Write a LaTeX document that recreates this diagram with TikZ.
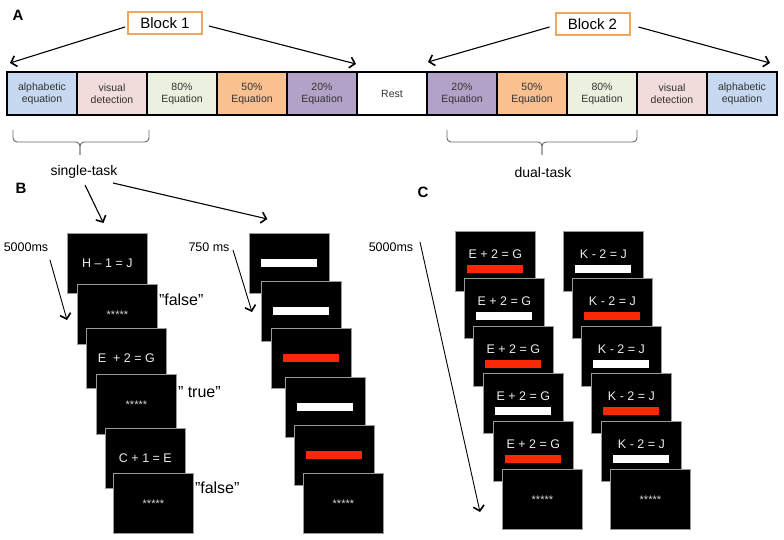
\documentclass[tikz,border=0pt]{standalone}
\usepackage{fontspec}
\setmainfont{Liberation Sans}
\usepackage{tikz}
\usetikzlibrary{positioning}
\usetikzlibrary{arrows.meta}

\definecolor{alphacol}{RGB}{198,217,240}
\definecolor{viscol}{RGB}{242,220,219}
\definecolor{eightycol}{RGB}{235,241,222}
\definecolor{fiftycol}{RGB}{250,192,144}
\definecolor{twentycol}{RGB}{179,162,199}
\definecolor{blockcol}{RGB}{242,165,95}
\definecolor{barred}{RGB}{250,40,5}

\newcommand{\wbar}{\textcolor{white}{\rule{56pt}{8pt}}}
\newcommand{\rbar}{\textcolor{barred}{\rule{56pt}{8pt}}}

\tikzset{
  cell/.style={draw, line width=2.2pt, outer sep=0pt, minimum width=70pt, minimum height=43pt,
    align=center, inner sep=1pt, text=black!80, font=\fontsize{10.5}{12}\selectfont},
  blockbox/.style={draw=blockcol, line width=2pt, minimum width=74pt, minimum height=22pt,
    inner sep=0pt, font=\fontsize{15}{18}\selectfont},
  screen/.style={fill=black, draw=black!40, line width=0.8pt, minimum width=80pt,
    minimum height=60pt, inner sep=0pt, anchor=north west},
  eqtxt/.style={text=white!92!black, inner sep=0pt, font=\fontsize{12.5}{15}\selectfont},
  stars/.style={text=white!85!black, font=\fontsize{11}{13}\selectfont},
  resp/.style={anchor=west, inner sep=1pt, font=\fontsize{16}{19}\selectfont},
  lbl/.style={font=\fontsize{14}{17}\selectfont},
  timelbl/.style={font=\fontsize{12.5}{15}\selectfont},
  panel/.style={font=\bfseries\fontsize{15}{18}\selectfont},
  arr/.style={line width=1.1pt, -{Straight Barb[length=5pt,width=11pt,line width=1.6pt]}},
  tarr/.style={line width=0.9pt, -{Straight Barb[length=5pt,width=11pt,line width=1.6pt]}},
  brace/.style={draw=black!60, line width=0.9pt, rounded corners=4pt}
}

\begin{document}
\begin{tikzpicture}[x=1pt, y=-1pt]
  \useasboundingbox (0,0) rectangle (784,540);

  % A: order of the blocks
  \node[panel] (labA) at (18,15) {A};
  \node[cell, fill=alphacol] (alphaA) at (42,93.5) {alphabetic\\equation};
  \node[cell, fill=viscol, right=0pt of alphaA] (visA) {visual\\detection};
  \node[cell, fill=eightycol, right=0pt of visA] (eightyA) {80\%\\Equation};
  \node[cell, fill=fiftycol, right=0pt of eightyA] (fiftyA) {50\%\\Equation};
  \node[cell, fill=twentycol, right=0pt of fiftyA] (twentyA) {20\%\\Equation};
  \node[cell, fill=white, right=0pt of twentyA] (rest) {Rest};
  \node[cell, fill=twentycol, right=0pt of rest] (twentyB) {20\%\\Equation};
  \node[cell, fill=fiftycol, right=0pt of twentyB] (fiftyB) {50\%\\Equation};
  \node[cell, fill=eightycol, right=0pt of fiftyB] (eightyB) {80\%\\Equation};
  \node[cell, fill=viscol, right=0pt of eightyB] (visB) {visual\\detection};
  \node[cell, fill=alphacol, right=0pt of visB] (alphaB) {alphabetic\\equation};

  \node[blockbox] (blk1) at (165,23) {Block 1};
  \node[blockbox] (blk2) at (592.5,24) {Block 2};
  \coordinate (blk1L) at ([shift={(3,-9)}]alphaA.north west);
  \coordinate (blk1R) at ([shift={(-1,-8)}]rest.north west);
  \coordinate (blk2L) at ([shift={(1,-10)}]twentyB.north west);
  \coordinate (blk2R) at ([shift={(-7,-9)}]alphaB.north east);
  \draw[arr] ([shift={(-2,4)}]blk1.west) -- (blk1L);
  \draw[arr] ([shift={(6,3)}]blk1.east) -- (blk1R);
  \draw[arr] ([shift={(-5,3)}]blk2.west) -- (blk2L);
  \draw[arr] ([shift={(8,3)}]blk2.east) -- (blk2R);

  % braces
  \draw[brace] (13,130) -- (13,142) -- (80,142) -- (80,155);
  \draw[brace] (149,130) -- (149,142) -- (80,142) -- (80,155);
  \draw[brace] (447,130) -- (447,142) -- (542,142) -- (542,155);
  \draw[brace] (637,130) -- (637,142) -- (542,142) -- (542,155);
  \node[lbl] (st) at (84,172) {single-task};
  \node[lbl] (dt) at (543,172) {dual-task};

  % B: single-task trials
  \node[panel] (labB) at (21,188) {B};
  \node[timelbl] (tB) at (26,247) {5000ms};
  \node[timelbl] (tM) at (209,247) {750 ms};

  \node[screen, eqtxt] (bl1) at (67,233) {H – 1 = J};
  \node[screen, stars] (bl2) at (77,284) {*****};
  \node[screen, eqtxt] (bl3) at (86,328) {E\ \ + 2 = G};
  \node[screen, stars] (bl4) at (96,374) {*****};
  \node[screen, eqtxt] (bl5) at (105,428) {C + 1 = E};
  \node[screen, stars] (bl6) at (113,473) {*****};
  \node[resp] (r1) at ([yshift=-16pt]bl2.north east) {"false"};
  \node[resp] (r2) at ([yshift=-18pt]bl4.north east) {" true"};
  \node[resp] (r3) at ([yshift=-15pt]bl6.north east) {"false"};

  \node[screen] (bm1) at (249,233) {\wbar};
  \node[screen] (bm2) at (261,281) {\wbar};
  \node[screen] (bm3) at (271,328) {\rbar};
  \node[screen] (bm4) at (285,377) {\wbar};
  \node[screen] (bm5) at (294,425) {\rbar};
  \node[screen, stars] (bm6) at (303,473) {*****};

  \draw[arr] ([shift={(1,13)}]st.center) -- ([shift={(-4,-10)}]bl1.north);
  \draw[arr] ([shift={(29,11)}]st.center) -- ([shift={(-22,-14)}]bm1.north);
  \draw[tarr] ([shift={(24,13)}]tB.center) -- ++(17,60);
  \draw[tarr] ([shift={(24,3)}]tM.center) -- ++(19,62);

  % C: dual-task trials
  \node[panel] (labC) at (423,192) {C};
  \node[timelbl] (tC) at (391,247) {5000ms};
  \draw[tarr] ([shift={(29,-5)}]tC.center) -- ++(60,270);

  \node[screen] (cl1) at (455,231) {};
  \node[eqtxt] (cl1e) at ([yshift=7.5pt]cl1.center) {E + 2 = G};
  \node[inner sep=0pt] (cl1b) at ([yshift=-7.5pt]cl1.center) {\rbar};
  \node[screen] (cl2) at (464,278) {};
  \node[eqtxt] (cl2e) at ([yshift=7.5pt]cl2.center) {E + 2 = G};
  \node[inner sep=0pt] (cl2b) at ([yshift=-7.5pt]cl2.center) {\wbar};
  \node[screen] (cl3) at (473,326) {};
  \node[eqtxt] (cl3e) at ([yshift=7.5pt]cl3.center) {E + 2 = G};
  \node[inner sep=0pt] (cl3b) at ([yshift=-7.5pt]cl3.center) {\rbar};
  \node[screen] (cl4) at (483,373) {};
  \node[eqtxt] (cl4e) at ([yshift=7.5pt]cl4.center) {E + 2 = G};
  \node[inner sep=0pt] (cl4b) at ([yshift=-7.5pt]cl4.center) {\wbar};
  \node[screen] (cl5) at (493,421) {};
  \node[eqtxt] (cl5e) at ([yshift=7.5pt]cl5.center) {E + 2 = G};
  \node[inner sep=0pt] (cl5b) at ([yshift=-7.5pt]cl5.center) {\rbar};
  \node[screen, stars] (cl6) at (502,469) {*****};

  \node[screen] (cr1) at (563,231) {};
  \node[eqtxt] (cr1e) at ([yshift=7.5pt]cr1.center) {K - 2 = J};
  \node[inner sep=0pt] (cr1b) at ([yshift=-7.5pt]cr1.center) {\wbar};
  \node[screen] (cr2) at (572,278) {};
  \node[eqtxt] (cr2e) at ([yshift=7.5pt]cr2.center) {K - 2 = J};
  \node[inner sep=0pt] (cr2b) at ([yshift=-7.5pt]cr2.center) {\rbar};
  \node[screen] (cr3) at (581,326) {};
  \node[eqtxt] (cr3e) at ([yshift=7.5pt]cr3.center) {K - 2 = J};
  \node[inner sep=0pt] (cr3b) at ([yshift=-7.5pt]cr3.center) {\wbar};
  \node[screen] (cr4) at (591,373) {};
  \node[eqtxt] (cr4e) at ([yshift=7.5pt]cr4.center) {K - 2 = J};
  \node[inner sep=0pt] (cr4b) at ([yshift=-7.5pt]cr4.center) {\rbar};
  \node[screen] (cr5) at (601,421) {};
  \node[eqtxt] (cr5e) at ([yshift=7.5pt]cr5.center) {K - 2 = J};
  \node[inner sep=0pt] (cr5b) at ([yshift=-7.5pt]cr5.center) {\wbar};
  \node[screen, stars] (cr6) at (610,469) {*****};
\end{tikzpicture}
\end{document}
